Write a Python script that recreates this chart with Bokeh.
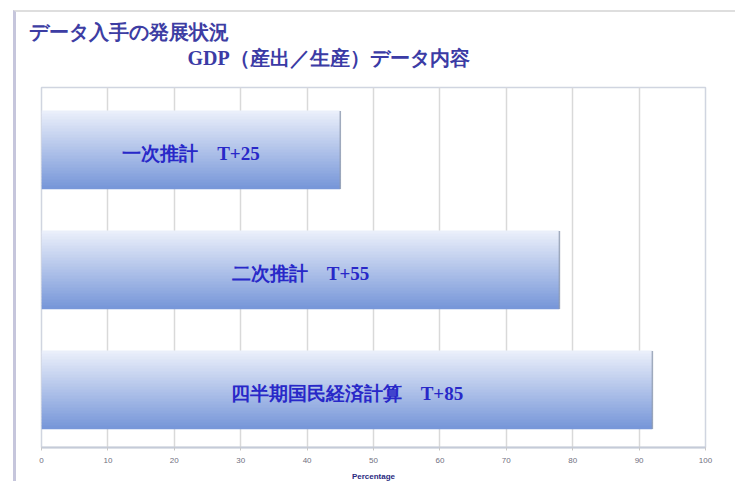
from bokeh.plotting import figure
from bokeh.models import FactorRange, Range1d, Title, FixedTicker, ColumnDataSource
from bokeh.transform import dodge
from bokeh.core.properties import value
from bokeh.embed import file_html
from bokeh.resources import INLINE
import numpy as np

# ---- data ----
categories = ["一次推計", "二次推計", "四半期国民経済計算"]
lags = ["T+25", "T+55", "T+85"]
percent = [45, 78, 92]
x_ticks = [0, 10, 20, 30, 40, 50, 60, 70, 80, 90, 100]
title_main = "データ入手の発展状況"
title_sub = "GDP（産出／生産）データ内容"
x_label = "Percentage"

labels = [c + "　" + l for c, l in zip(categories, lags)]
src = ColumnDataSource(dict(cat=categories, val=percent,
                            mid=[v / 2 for v in percent], label=labels))

p = figure(width=722, height=471,
           y_range=FactorRange(factors=categories[::-1]),
           x_range=Range1d(0, 100),
           output_backend="svg", toolbar_location=None,
           min_border_left=25, min_border_right=33,
           min_border_top=75, min_border_bottom=36)
p.margin = (10, 0, 0, 13)
p.styles = {"border-left": "3px solid #c6c6dc", "border-top": "2px solid #dedede"}
p.background_fill_color = "white"
p.border_fill_color = "white"
p.outline_line_color = "#d0d5e0"
p.outline_line_width = 1.5
p.title.visible = False

p.yaxis.visible = False
p.ygrid.visible = False
p.xgrid.ticker = FixedTicker(ticks=x_ticks)
p.xgrid.grid_line_color = "#d9d9d9"
p.xgrid.grid_line_width = 1.5

ax = p.xaxis[0]
ax.ticker = FixedTicker(ticks=x_ticks)
ax.axis_line_color = "#c5cbd8"
ax.axis_line_width = 2
ax.major_tick_line_color = "#c8c8c8"
ax.major_tick_out = 3
ax.major_tick_in = 0
ax.minor_tick_line_color = None
ax.major_label_text_font = "Liberation Sans"
ax.major_label_text_font_size = "8px"
ax.major_label_text_color = "#707080"
ax.major_label_standoff = 7
ax.axis_label = x_label
ax.axis_label_text_font = "Liberation Sans"
ax.axis_label_text_font_size = "8px"
ax.axis_label_text_font_style = "bold"
ax.axis_label_text_color = "#2a2a80"
ax.axis_label_standoff = 6

# gradient bars built from slices
N = 26
bar_h = 0.65
top_c = np.array([234, 239, 250])
bot_c = np.array([120, 151, 217])
h = bar_h / N
for k in range(N):
    t = k / (N - 1)  # 0 at top, 1 at bottom
    c = top_c * (1 - t) + bot_c * t
    col = "#%02x%02x%02x" % tuple(int(round(v)) for v in c)
    off = bar_h / 2 - (k + 0.5) * h - 0.02
    p.hbar(y=dodge("cat", off, range=p.y_range), left=0, right="val",
           height=h * 1.2, source=src, fill_color=col, line_color=None)

p.segment(x0="val", x1="val", y0=dodge("cat", -bar_h / 2 - 0.02, range=p.y_range),
          y1=dodge("cat", bar_h / 2 - 0.02, range=p.y_range), source=src,
          line_color="#8c98ae", line_width=1.5, line_alpha=0.8)

p.text(x="mid", y=dodge("cat", -0.05, range=p.y_range), text="label", source=src,
       text_align="center", text_baseline="middle",
       text_font=value("Liberation Serif"), text_font_size="19px",
       text_font_style="bold", text_color="#2828c8")

# spacer between plot area and subtitle
p.add_layout(Title(text=" ", text_font_size="2px", standoff=15), "above")
p.add_layout(Title(text=title_sub, align="left", offset=146, standoff=0,
                   text_font="Liberation Serif", text_font_size="20px",
                   text_font_style="bold", text_color="#3b3ba5"), "above")
p.add_layout(Title(text=title_main, align="left", offset=-13, standoff=4,
                   text_font="Liberation Sans", text_font_size="20px",
                   text_font_style="bold", text_color="#3d3da3"), "above")

open("out.html", "w").write(file_html(p, INLINE))
